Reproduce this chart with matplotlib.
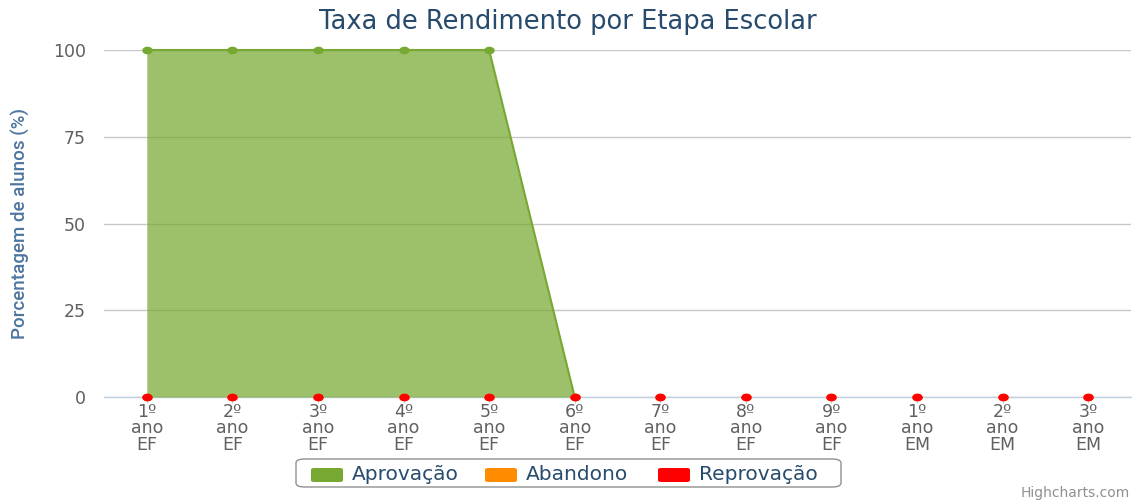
import matplotlib
matplotlib.use("Agg")
import matplotlib.pyplot as plt
import numpy as np
from matplotlib.patches import FancyBboxPatch
from matplotlib.path import Path

categories = ["1º\nano\nEF", "2º\nano\nEF", "3º\nano\nEF", "4º\nano\nEF", "5º\nano\nEF",
              "6º\nano\nEF", "7º\nano\nEF", "8º\nano\nEF", "9º\nano\nEF",
              "1º\nano\nEM", "2º\nano\nEM", "3º\nano\nEM"]
aprovacao = [100, 100, 100, 100, 100, 0, None, None, None, None, None, None]
abandono = [0, 0, 0, 0, 0, 0, 0, 0, 0, 0, 0, 0]
reprovacao = [0, 0, 0, 0, 0, 0, 0, 0, 0, 0, 0, 0]
y_ticks = [0, 25, 50, 75, 100]

green = "#77a832"
orange = "#ff8c00"
red = "#ff0000"

# slightly wide elliptical marker (reference is horizontally stretched)
t = np.linspace(0, 2 * np.pi, 40)
ell = Path(np.column_stack([1.45 * np.cos(t), np.sin(t)]), closed=True)

fig = plt.figure(figsize=(11.32, 5.0), dpi=100)
ax = fig.add_axes([104/1132, 1-397/500, 1027/1132, 347/500])

x = np.arange(len(categories))
apr = np.array([np.nan if v is None else v for v in aprovacao], dtype=float)
ax.fill_between(x, apr, 0, where=~np.isnan(apr), color=green, alpha=0.72, linewidth=0, zorder=2)
ax.plot(x, apr, color=green, linewidth=1.5, marker=ell, markersize=6.5, zorder=3, clip_on=False)
ax.plot(x, abandono, color=orange, linewidth=0, marker=ell, markersize=6.5, zorder=4, clip_on=False)
ax.plot(x, reprovacao, color=red, linewidth=0, marker=ell, markersize=6.5, zorder=5, clip_on=False)

ax.set_xlim(-0.5, len(categories) - 0.5)
ax.set_ylim(0, 100)
ax.set_yticks(y_ticks)
ax.set_yticklabels([str(v) for v in y_ticks], fontsize=12.5, color="#606060", family="DejaVu Sans")
ax.set_xticks(x)
ax.set_xticklabels(categories, fontsize=12.5, color="#606060", family="DejaVu Sans", linespacing=0.9)
ax.tick_params(axis="y", length=0, pad=13)
ax.tick_params(axis="x", length=4, color="#c0d0e0", pad=0)
ax.yaxis.grid(True, color="#c8c8c8", linewidth=1)
ax.set_axisbelow(True)
for s in ["top", "right", "left"]:
    ax.spines[s].set_visible(False)
ax.spines["bottom"].set_color("#c0d0e0")
ax.spines["bottom"].set_linewidth(1)
ax.spines["bottom"].set_zorder(1)

ax.set_ylabel("Porcentagem de alunos (%)", fontsize=13.5, color="#4d759e",
              family=["Roboto", "DejaVu Sans"], fontweight="medium")
ax.yaxis.set_label_coords(-74/1027, 0.5)

fig.text(568/1132, 1-22/500, "Taxa de Rendimento por Etapa Escolar", ha="center", va="center",
         fontsize=18.5, color="#274b6d", family="DejaVu Sans")

# legend
lx0, ly0, lw, lh = 296, 459, 545, 28
box = FancyBboxPatch((lx0/1132, 1-(ly0+lh)/500), lw/1132, lh/500,
                     boxstyle="round,pad=0,rounding_size=0.008", transform=fig.transFigure,
                     facecolor="white", edgecolor="#909090", linewidth=1)
fig.patches.append(box)
items = [("Aprovação", green, 311), ("Abandono", orange, 485), ("Reprovação", red, 658)]
for name, col, px in items:
    p = FancyBboxPatch((px/1132, 1-482/500), 32/1132, 14/500,
                       boxstyle="round,pad=0,rounding_size=0.003", transform=fig.transFigure,
                       facecolor=col, edgecolor="none")
    fig.patches.append(p)
    fig.text((px+41)/1132, 1-474/500, name, ha="left", va="center", fontsize=14.5,
             color="#274b6d", family="DejaVu Sans")

fig.text(1130/1132, 1-493/500, "Highcharts.com", ha="right", va="center", fontsize=10, color="#909090")

fig.savefig("out.png", dpi=100)
